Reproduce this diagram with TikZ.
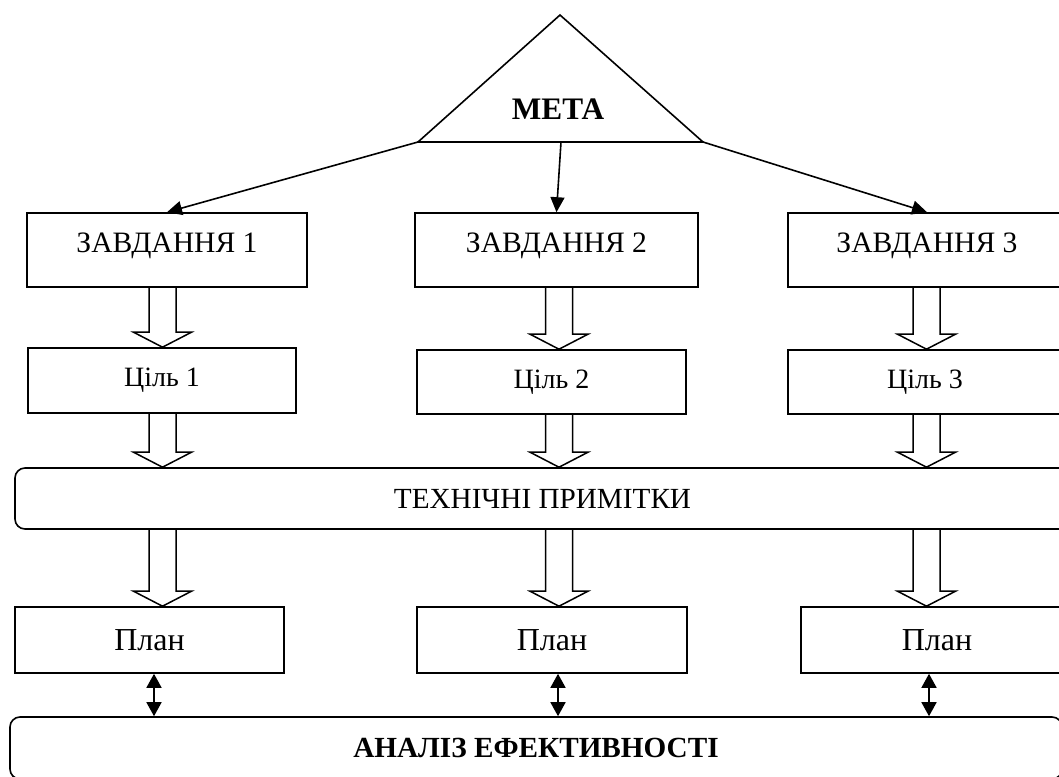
\documentclass[tikz,border=0pt]{standalone}
\usepackage{fontspec}
\setmainfont{Liberation Serif}
\usetikzlibrary{positioning,calc,arrows.meta}

\newcommand{\hollowarrow}[2]{%
	\draw[line width=1.5pt, line join=miter] let \p1 = (#1), \p2 = (#2) in
	    (\x1-13.5pt,\y1) -- (\x1-13.5pt,\y2+15pt) -- (\x1-29pt,\y2+15pt) -- (\x1,\y2)
	    -- (\x1+29pt,\y2+15pt) -- (\x1+13.5pt,\y2+15pt) -- (\x1+13.5pt,\y1);}

\begin{document}
\begin{tikzpicture}[x=1pt, y=-1pt, line width=1.6pt,
	thinarrow/.style={-{Triangle[length=15pt,width=14pt]}},
	twoway/.style={{Triangle[length=14pt,width=15pt]}-{Triangle[length=14pt,width=15pt]}}]
	\useasboundingbox (0,0) rectangle (1059,776);
	\clip (0,0) rectangle (1059,776);

	\coordinate (apex) at (560,15);
	\coordinate (bl) at (418,142);
	\coordinate (br) at (703,142);
	\coordinate (bm) at (561,142);
	\draw[line join=miter] (bl) -- (apex) -- (br) -- cycle;
	\node[font=\fontsize{31.3}{36}\selectfont\bfseries] (meta) at (558,109) {МЕТА};

	\coordinate (h1) at (162.5,0);
	\coordinate (h2) at (559,0);
	\coordinate (h3) at (926.5,0);
	\coordinate (d1) at (154,0);
	\coordinate (d2) at (558,0);
	\coordinate (d3) at (929,0);

	\begin{scope}[every node/.style={draw, inner sep=0pt, font=\fontsize{28}{32}\selectfont}]
	    \node[font=\fontsize{29.6}{34}\selectfont, minimum width=280, minimum height=74, text depth=15pt] (zav1) at (167,250) {ЗАВДАННЯ 1};
	    \node[font=\fontsize{29.6}{34}\selectfont, minimum width=283, minimum height=74, text depth=15pt] (zav2) at (556.5,250) {ЗАВДАННЯ 2};
	    \node[font=\fontsize{29.6}{34}\selectfont, minimum width=278, minimum height=74, text depth=15pt] (zav3) at (927,250) {ЗАВДАННЯ 3};
	    \node[minimum width=268, minimum height=65] (cil1) at (162,380.5) {Ціль 1};
	    \node[minimum width=269, minimum height=64] (cil2) at (551.5,382) {Ціль 2};
	    \node[minimum width=274, minimum height=64] (cil3) at (925,382) {Ціль 3};
	    \node[font=\fontsize{29.2}{34}\selectfont, rounded corners=10pt, minimum width=1055, minimum height=61] (notes) at (542.5,498.5) {ТЕХНІЧНІ ПРИМІТКИ};
	    \node[font=\fontsize{32}{38}\selectfont, minimum width=269, minimum height=66] (plan1) at (149.5,640) {План};
	    \node[font=\fontsize{32}{38}\selectfont, minimum width=270, minimum height=66] (plan2) at (552,640) {План};
	    \node[font=\fontsize{32}{38}\selectfont, minimum width=272, minimum height=66] (plan3) at (937,640) {План};
	    \node[font=\fontsize{29.2}{34}\selectfont\bfseries, rounded corners=10pt, minimum width=1052, minimum height=62] (eff) at (536,748) {АНАЛІЗ ЕФЕКТИВНОСТІ};
	\end{scope}

	\path [thinarrow] (bl) edge (zav1.north);
	\path [thinarrow] (bm) edge (zav2.north);
	\path [thinarrow] (br) edge (zav3.north);

	\hollowarrow{h1 |- zav1.south}{h1 |- cil1.north}
	\hollowarrow{h2 |- zav2.south}{h2 |- cil2.north}
	\hollowarrow{h3 |- zav3.south}{h3 |- cil3.north}
	\hollowarrow{h1 |- cil1.south}{h1 |- notes.north}
	\hollowarrow{h2 |- cil2.south}{h2 |- notes.north}
	\hollowarrow{h3 |- cil3.south}{h3 |- notes.north}
	\hollowarrow{h1 |- notes.south}{h1 |- plan1.north}
	\hollowarrow{h2 |- notes.south}{h2 |- plan2.north}
	\hollowarrow{h3 |- notes.south}{h3 |- plan3.north}

	\path [twoway] (d1 |- plan1.south) edge (d1 |- eff.north);
	\path [twoway] (d2 |- plan2.south) edge (d2 |- eff.north);
	\path [twoway] (d3 |- plan3.south) edge (d3 |- eff.north);
\end{tikzpicture}
\end{document}
